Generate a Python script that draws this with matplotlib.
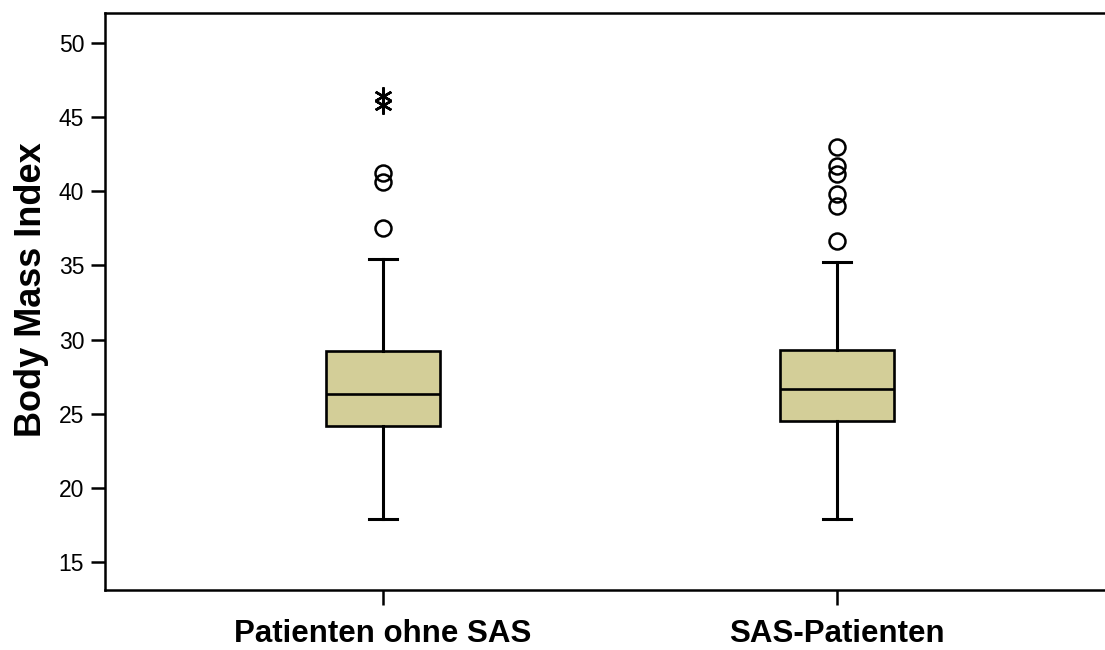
import numpy as np
import matplotlib
matplotlib.use("Agg")
import matplotlib.pyplot as plt

plt.rcParams['font.family'] = ['Liberation Sans', 'DejaVu Sans']

# group names and box statistics
groups = ['Patienten ohne SAS', 'SAS-Patienten']
q1 = [24.15, 24.5]
med = [26.3, 26.64]
q3 = [29.2, 29.27]
wlo = [17.9, 17.9]
whi = [35.4, 35.2]
outliers = [[37.55, 40.6, 41.25], [36.67, 39.03, 39.84, 41.18, 41.72, 43.0]]
extremes = [[45.8, 46.4], []]

fill = '#D3CE98'

fig = plt.figure(figsize=(11.05, 6.5), dpi=100)
ax = fig.add_axes([105 / 1105, 60 / 650, 1000 / 1105, 577 / 650])

stats = []
for i in range(len(groups)):
    stats.append(dict(label=groups[i], q1=q1[i], med=med[i], q3=q3[i],
                      whislo=wlo[i], whishi=whi[i], fliers=[]))

pos = np.arange(1, len(groups) + 1)
ax.bxp(stats, positions=pos, widths=0.252, patch_artist=True,
       showfliers=False, capwidths=0.062,
       boxprops=dict(facecolor=fill, edgecolor='black', linewidth=1.9),
       medianprops=dict(color='black', linewidth=1.9),
       whiskerprops=dict(color='black', linewidth=2.2),
       capprops=dict(color='black', linewidth=2.2))

for i in range(len(groups)):
    if outliers[i]:
        ax.plot([pos[i]] * len(outliers[i]), outliers[i], linestyle='none',
                marker='o', markersize=11.5, markerfacecolor='none',
                markeredgecolor='black', markeredgewidth=1.8)
    if extremes[i]:
        ax.plot([pos[i]] * len(extremes[i]), extremes[i], linestyle='none',
                marker=(6, 2, 0), markersize=13, color='black',
                markeredgewidth=1.8)

ax.set_xlim(0.388, 2.59)
ax.set_ylim(13.115, 52.02)
ax.set_yticks([15, 20, 25, 30, 35, 40, 45, 50])
ax.set_xticks(pos)
ax.set_xticklabels(groups, fontsize=22.5, fontweight='bold')
ax.tick_params(axis='y', labelsize=16.5, length=10, width=1.8, pad=5)
ax.tick_params(axis='x', length=11, width=1.8, pad=10)
ax.set_ylabel('Body Mass Index', fontsize=26, fontweight='bold')
ax.yaxis.set_label_coords(-0.056, 0.52)

for s in ['left', 'bottom', 'top']:
    ax.spines[s].set_linewidth(1.8)
ax.spines['right'].set_visible(False)

fig.savefig('out.png', dpi=100)
